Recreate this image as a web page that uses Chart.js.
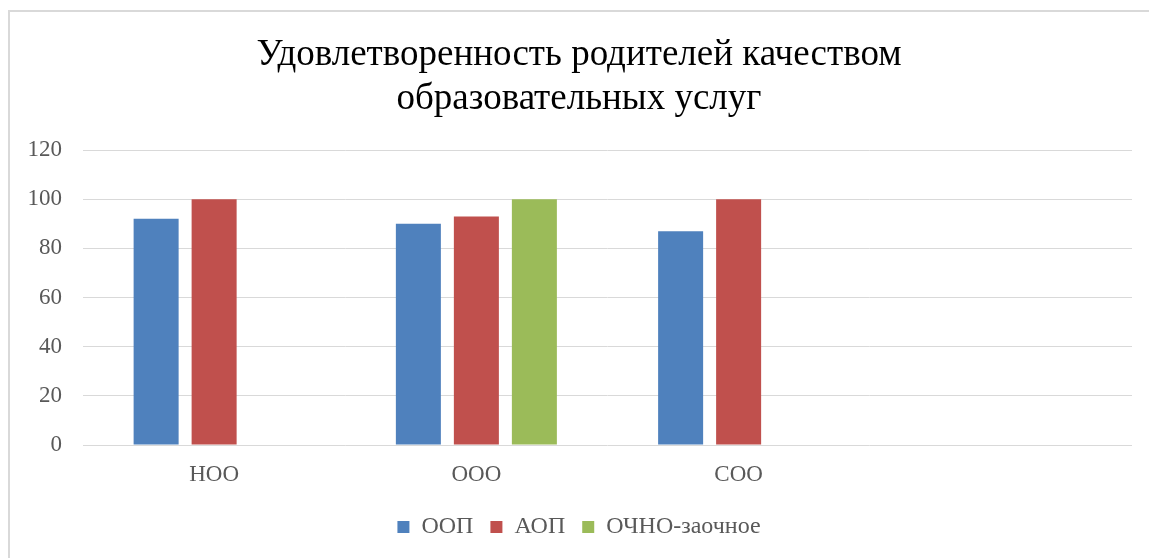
<!DOCTYPE html>
<html>
<head>
<meta charset="utf-8">
<script src="https://cdn.jsdelivr.net/npm/chart.js@4"></script>
<style>
  html, body { margin: 0; padding: 0; background: #fff; overflow: hidden; }
  #frame { position: absolute; left: 8px; top: 10px; width: 1200px; height: 600px;
           border: 2px solid #d9d9d9; box-sizing: border-box; }
  #wrap { position: absolute; left: 0; top: 0; width: 1149px; height: 558px; }
</style>
</head>
<body>
<div id="frame"></div>
<div id="wrap"><canvas id="myChart"></canvas></div>
<script>
// уровни образования (четвёртая категория в исходнике пустая)
var categories = ["НОО", "ООО", "СОО", ""]
var seriesNames = ["ООП", "АОП", "ОЧНО-заочное"]
var oop = [92, 90, 87, null]
var aop = [100, 93, 100, null]
var ochno = [null, 100, null, null]
var yTicks = [0, 20, 40, 60, 80, 100, 120]

var colors = ["#4F81BD", "#C0504D", "#9BBB59"]
var serif = "'Liberation Serif', 'Times New Roman', serif"

var ctx = document.getElementById("myChart").getContext("2d")
var chart = new Chart(ctx, {
    type: "bar",
    data: {
        labels: categories,
        datasets: [oop, aop, ochno].map(function(values, i){
            return {
                label: seriesNames[i],
                data: values,
                backgroundColor: colors[i],
                borderWidth: 0,
                categoryPercentage: 0.6635,
                barPercentage: 0.776
            }
        })
    },
    options: {
        responsive: true,
        maintainAspectRatio: false,
        animation: false,
        layout: { padding: { left: 26, right: 17, top: 0, bottom: 9 } },
        plugins: {
            title: {
                display: true,
                text: ["Удовлетворенность родителей качеством", "образовательных услуг"],
                color: "#000",
                font: { family: serif, size: 37, weight: "normal", lineHeight: 44 / 37 },
                padding: { top: 33, bottom: 29 }
            },
            legend: {
                position: "bottom",
                labels: {
                    boxWidth: 12,
                    boxHeight: 12,
                    padding: 17,
                    color: "#595959",
                    font: { family: serif, size: 24 }
                }
            },
            tooltip: { enabled: false }
        },
        scales: {
            x: {
                grid: { display: false, drawTicks: false },
                border: { display: false },
                ticks: { color: "#595959", font: { family: serif, size: 23 }, padding: 16 },
                afterFit: function(scale){ scale.height = 53 }
            },
            y: {
                min: 0,
                max: 120,
                afterBuildTicks: function(scale){
                    scale.ticks = yTicks.map(function(v){ return { value: v } })
                },
                grid: { color: "#d9d9d9", lineWidth: 1, drawTicks: false },
                border: { display: false },
                ticks: { color: "#595959", font: { family: serif, size: 23 }, padding: 21 },
                afterFit: function(scale){ scale.width = 57 }
            }
        }
    }
})
</script>
</body>
</html>
